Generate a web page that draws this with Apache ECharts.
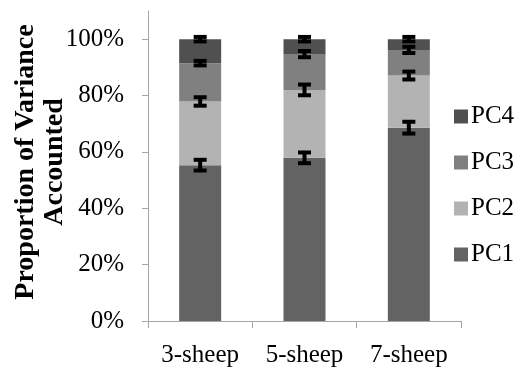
<!DOCTYPE html>
<html>
<head>
<meta charset="utf-8">
<script src="https://cdn.jsdelivr.net/npm/echarts@6/dist/echarts.min.js"></script>
<style>html,body{margin:0;padding:0;background:#fff;}#c{width:516px;height:368px;}</style>
</head>
<body>
<div id="c"></div>
<script>
var categories = ['3-sheep', '5-sheep', '7-sheep'];
var pc1 = [55.3, 57.9, 68.6];
var pc2 = [22.6, 24.1, 18.5];
var pc3 = [13.6, 12.7, 9.1];
var pc4 = [8.5, 5.3, 3.8];
var err1 = [1.9, 1.9, 2.1];
var err2 = [1.5, 1.9, 1.4];
var err3 = [0.8, 1.1, 1.1];
var err4 = [0.8, 0.8, 0.8];
var yTicks = [0, 20, 40, 60, 80, 100];

var names = ['PC1', 'PC2', 'PC3', 'PC4'];
var colors = ['#636363', '#b3b3b3', '#808080', '#505050'];
var vals = [pc1, pc2, pc3, pc4];
var errs = [err1, err2, err3, err4];

var FONT = 'Liberation Serif';
var series = [];
for (var s = 0; s < 4; s++) {
  series.push({
    name: names[s], type: 'bar', stack: 'total', barWidth: 42,
    itemStyle: { color: colors[s] },
    data: vals[s]
  });
}
var errData = [];
for (var i = 0; i < categories.length; i++) {
  var cum = 0;
  for (var k = 0; k < 4; k++) {
    cum += vals[k][i];
    errData.push([i, cum, errs[k][i]]);
  }
}
series.push({
  type: 'custom', z: 10, silent: true,
  renderItem: function (params, api) {
    var x = api.coord([api.value(0), 0])[0];
    var yc = api.value(1), e = api.value(2);
    var yt = api.coord([0, yc + e])[1];
    var yb = api.coord([0, yc - e])[1];
    var capW = 13, capH = 4, stemW = 4;
    return { type: 'group', children: [
      { type: 'rect', shape: { x: x - stemW / 2, y: yt, width: stemW, height: yb - yt }, style: { fill: '#000' } },
      { type: 'rect', shape: { x: x - capW / 2, y: yt - capH / 2, width: capW, height: capH }, style: { fill: '#000' } },
      { type: 'rect', shape: { x: x - capW / 2, y: yb - capH / 2, width: capW, height: capH }, style: { fill: '#000' } }
    ]};
  },
  encode: { x: 0, y: 1 },
  data: errData
});

var chart = echarts.init(document.getElementById('c'), null, { renderer: 'canvas' });
chart.setOption({
  animation: false,
  backgroundColor: '#fff',
  textStyle: { fontFamily: FONT },
  grid: { left: 148, right: 55, top: 11, bottom: 45, containLabel: false },
  legend: {
    orient: 'vertical', left: 449, top: 99,
    data: ['PC4', 'PC3', 'PC2', 'PC1'],
    icon: 'rect', itemWidth: 14, itemHeight: 14, itemGap: 21,
    textStyle: { fontFamily: FONT, fontSize: 25, color: '#000', padding: [0, 0, 0, -2] }
  },
  xAxis: {
    type: 'category', data: categories,
    axisLine: { lineStyle: { color: '#a6a6a6', width: 1 } },
    axisTick: { show: true, length: 7, lineStyle: { color: '#a6a6a6' } },
    axisLabel: { fontFamily: FONT, fontSize: 25, color: '#000', margin: 22, interval: 0 }
  },
  yAxis: {
    type: 'value', min: 0, max: 110,
    splitLine: { show: false },
    axisLine: { show: true, lineStyle: { color: '#a6a6a6', width: 1 } },
    axisTick: { show: true, length: 6, customValues: yTicks, lineStyle: { color: '#a6a6a6' } },
    axisLabel: { customValues: yTicks, fontFamily: FONT, fontSize: 25, color: '#000', margin: 24,
      formatter: function (v) { return v + '%'; } }
  },
  graphic: [{
    type: 'text', x: 40, y: 162, rotation: Math.PI / 2,
    style: { text: 'Proportion of Variance\nAccounted', fontFamily: FONT, fontSize: 28, fontWeight: 'bold',
      fill: '#000', align: 'center', verticalAlign: 'middle', lineHeight: 29 }
  }],
  series: series
});
</script>
</body>
</html>
